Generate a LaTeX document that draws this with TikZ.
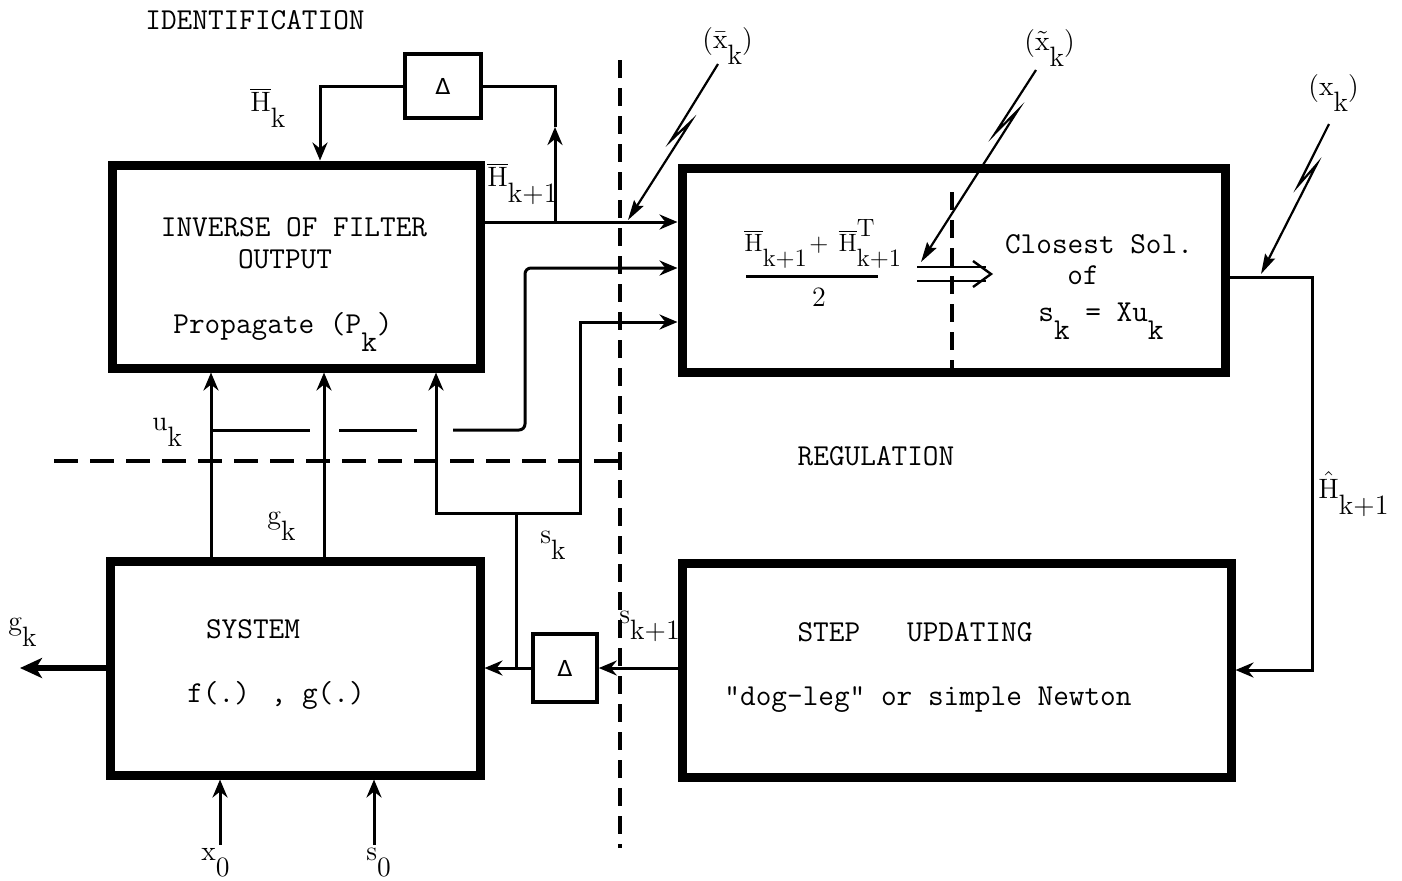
\documentclass[tikz,border=0pt]{standalone}
\usepackage{fontspec}
\newfontfamily\dvfont{DejaVu Sans}
\usetikzlibrary{arrows.meta,calc}
\newcommand{\sbx}[2]{#1\raisebox{-0.6em}{#2}}
\begin{document}
\begin{tikzpicture}[x=0.5pt,y=-0.5pt,
  blk/.style={draw,line width=4.5pt,inner sep=0pt},
  dbox/.style={draw,line width=1.8pt,inner sep=0pt,font=\dvfont\fontsize{11}{12}\selectfont},
  conn/.style={line width=1.5pt,-{Stealth[length=9pt,width=7.5pt,inset=3pt]}},
  wire/.style={line width=1.5pt},
  dashln/.style={line width=1.7pt,dash pattern=on 9pt off 5pt},
  tt/.style={font=\ttfamily\fontsize{15.2}{18}\selectfont\addfontfeatures{FakeBold=1},inner sep=0pt},
  lab/.style={font=\fontsize{14}{16}\selectfont\addfontfeatures{FakeBold=0.8},inner sep=0pt},
  bolt/.style={line width=1.1pt,-{Stealth[length=10pt,width=5.5pt,inset=1.5pt]}},
]
\useasboundingbox (0,0) rectangle (1402,880);

% ---------- blocks ----------
\node[blk,minimum width=184pt,minimum height=101.5pt] (inv) at (296,266.5) {};
\node[blk,minimum width=271.5pt,minimum height=102pt] (big) at (953.5,270) {};
\node[blk,minimum width=185pt,minimum height=107pt] (sys) at (295,668) {};
\node[blk,minimum width=274.5pt,minimum height=107pt] (upd) at (956.5,670) {};
\node[dbox,minimum width=38pt,minimum height=32pt] (d1) at (443,86) {Δ};
\node[dbox,minimum width=32pt,minimum height=34pt] (d2) at (565,668) {Δ};

% ---------- texts in blocks ----------
\node[tt,anchor=base] (ti1) at (294,236) {INVERSE OF FILTER};
\node[tt,anchor=base] (ti2) at (285,268) {OUTPUT};
\node[tt,anchor=base] (ti3) at (283,333) {Propagate (\sbx{P}{k})};
\node[tt,anchor=base] (tc1) at (1099,253) {Closest Sol.};
\node[tt,anchor=base] (tc2) at (1083,284) {of};
\node[tt,anchor=base] (tc3) at (1101,321) {\sbx{s}{k} = X\sbx{u}{k}};
\node[tt,anchor=base] (ts1) at (253,638) {SYSTEM};
\node[tt,anchor=base] (ts2) at (276,702) {f(.) , g(.)};
\node[tt,anchor=base] (tu1) at (915,641) {STEP\ \ \ UPDATING};
\node[tt,anchor=base] (tu2) at (928,705) {"dog-leg" or simple Newton};
\node[tt] (tid) at (255,20) {IDENTIFICATION};
\node[tt] (treg) at (876,456) {REGULATION};

% fraction in the big block
\node[lab,font=\fontsize{12.5}{15}\selectfont,anchor=base west] (num) at (744,251)
  {\sbx{$\overline{\hbox{H}}$}{k+1}\hspace{0.1em}+\hspace{0.4em}$\overline{\hbox{H}}$\rlap{\raisebox{0.6em}{T}}\raisebox{-0.6em}{k+1}};
\draw[wire] (746,276) -- (878,276);
\node[lab] (two) at (819,297) {2};

% double arrow and inner dashed line
\draw[line width=1.2pt] (917,267) -- (986,267);
\draw[line width=1.2pt] (917,281) -- (986,281);
\draw[line width=1.2pt] (973,261) -- (991,274) -- (973,287);
\draw[dashln] (952,192) -- (952,370);

% ---------- partition lines ----------
\draw[dashln] (620,60) -- (620,848);
\draw[dashln,dash pattern=on 12pt off 6pt] (54,461) -- (618,461);

% ---------- helper coordinates ----------
\coordinate (xa) at (211,0);
\coordinate (xb) at (324,0);
\coordinate (xc) at (436,0);
\coordinate (xd) at (580,0);
\coordinate (xe) at (525,0);
\coordinate (xj) at (516,0);
\coordinate (xh) at (555,0);
\coordinate (xk) at (320,0);
\coordinate (xr) at (1312,0);
\coordinate (yH) at (0,222);
\coordinate (yU) at (0,268);
\coordinate (yS) at (0,322);
\coordinate (yu) at (0,430);
\coordinate (ys) at (0,513);
\coordinate (yO) at (0,277);
\coordinate (gout) at (20,0);
\coordinate (hup) at (555,127);

% ---------- connectors ----------
\draw[conn] (sys.north -| xa) -- (inv.south -| xa);
\draw[conn] (sys.north -| xb) -- (inv.south -| xb);
% s_k branch
\draw[wire] (xj |- d2.west) -- (xj |- ys);
\draw[conn] (xd |- ys) -- (xc |- ys) -- (inv.south -| xc);
\draw[conn] (xc |- ys) -- (xd |- ys) -- (xd |- yS) -- (big.west |- yS);
% u_k branch (broken at crossings)
\draw[wire] (xa |- yu) -- (310,430);
\draw[wire] (339,430) -- (417,430);
\draw[conn,rounded corners=3pt] (453,430) -- (xe |- yu) -- (xe |- yU) -- (big.west |- yU);
% H_{k+1}
\draw[conn] (inv.east |- yH) -- (big.west |- yH);
\draw[conn] (xh |- yH) -- (hup);
\draw[wire] (hup) -- (xh |- d1.east) -- (d1.east);
% H_k
\draw[conn] (d1.west) -- (xk |- d1.west) -- (inv.north -| xk);
% H hat
\draw[conn] (big.east |- yO) -- (xr |- yO) -- (xr |- upd.east) -- (upd.east);
% s_{k+1}
\draw[conn] (upd.west |- d2.east) -- (d2.east);
\draw[conn] (d2.west) -- (sys.east |- d2.west);
% g_k output
\draw[line width=3pt,-{Stealth[length=11pt,width=10pt,inset=3pt]}] (sys.west) -- (gout |- sys.west);

% inputs
\node[lab,anchor=base west] (lx0) at (201,860) {\sbx{x}{0}};
\node[lab,anchor=base west] (ls0) at (366,860) {\sbx{s}{0}};
\coordinate (x0s) at (220,845);
\coordinate (s0s) at (374,845);
\draw[conn] (x0s) -- (sys.south -| x0s);
\draw[conn] (s0s) -- (sys.south -| s0s);

% ---------- labels ----------
\node[lab,anchor=base west] (lhk) at (250,111) {\sbx{$\overline{\hbox{H}}$}{k}};
\node[lab,anchor=base west] (lhk1) at (487,186) {\sbx{$\overline{\hbox{H}}$}{k+1}};
\node[lab,anchor=base west] (luk) at (152,430) {\sbx{u}{k}};
\node[lab,anchor=base west] (lgk) at (267,524) {\sbx{g}{k}};
\node[lab,anchor=base west] (lsk) at (540,543) {\sbx{s}{k}};
\node[lab,anchor=base west] (lsk1) at (619,623) {\sbx{s}{k+1}};
\node[lab,anchor=base west] (lgk2) at (8,630) {\sbx{g}{k}};
\node[lab,anchor=base west] (lhh) at (1318,498) {\sbx{$\hat{\hbox{H}}$}{k+1}};
\node[lab,anchor=base west] (lxb) at (702,48) {(\sbx{$\bar{\hbox{x}}$}{k})};
\node[lab,anchor=base west] (lxt) at (1024,50) {(\sbx{$\tilde{\hbox{x}}$}{k})};
\node[lab,anchor=base west] (lxk) at (1308,95) {(\sbx{x}{k})};

% ---------- lightning pointers ----------
\coordinate (b1s) at (718,64);
\coordinate (b1t) at (628,220);
\draw[bolt] (b1s) -- ($(b1s)!0.49!(b1t)+(-3,0)$) -- ($(b1s)!0.37!(b1t)+(6,0)$) -- (b1t);
\coordinate (b2s) at (1036,70);
\coordinate (b2t) at (921,262);
\draw[bolt] (b2s) -- ($(b2s)!0.33!(b2t)+(-3,0)$) -- ($(b2s)!0.21!(b2t)+(6,0)$) -- (b2t);
\coordinate (b3s) at (1329,124);
\coordinate (b3t) at (1261,274);
\draw[bolt] (b3s) -- ($(b3s)!0.41!(b3t)+(-3,0)$) -- ($(b3s)!0.27!(b3t)+(6,0)$) -- (b3t);
\end{tikzpicture}
\end{document}
